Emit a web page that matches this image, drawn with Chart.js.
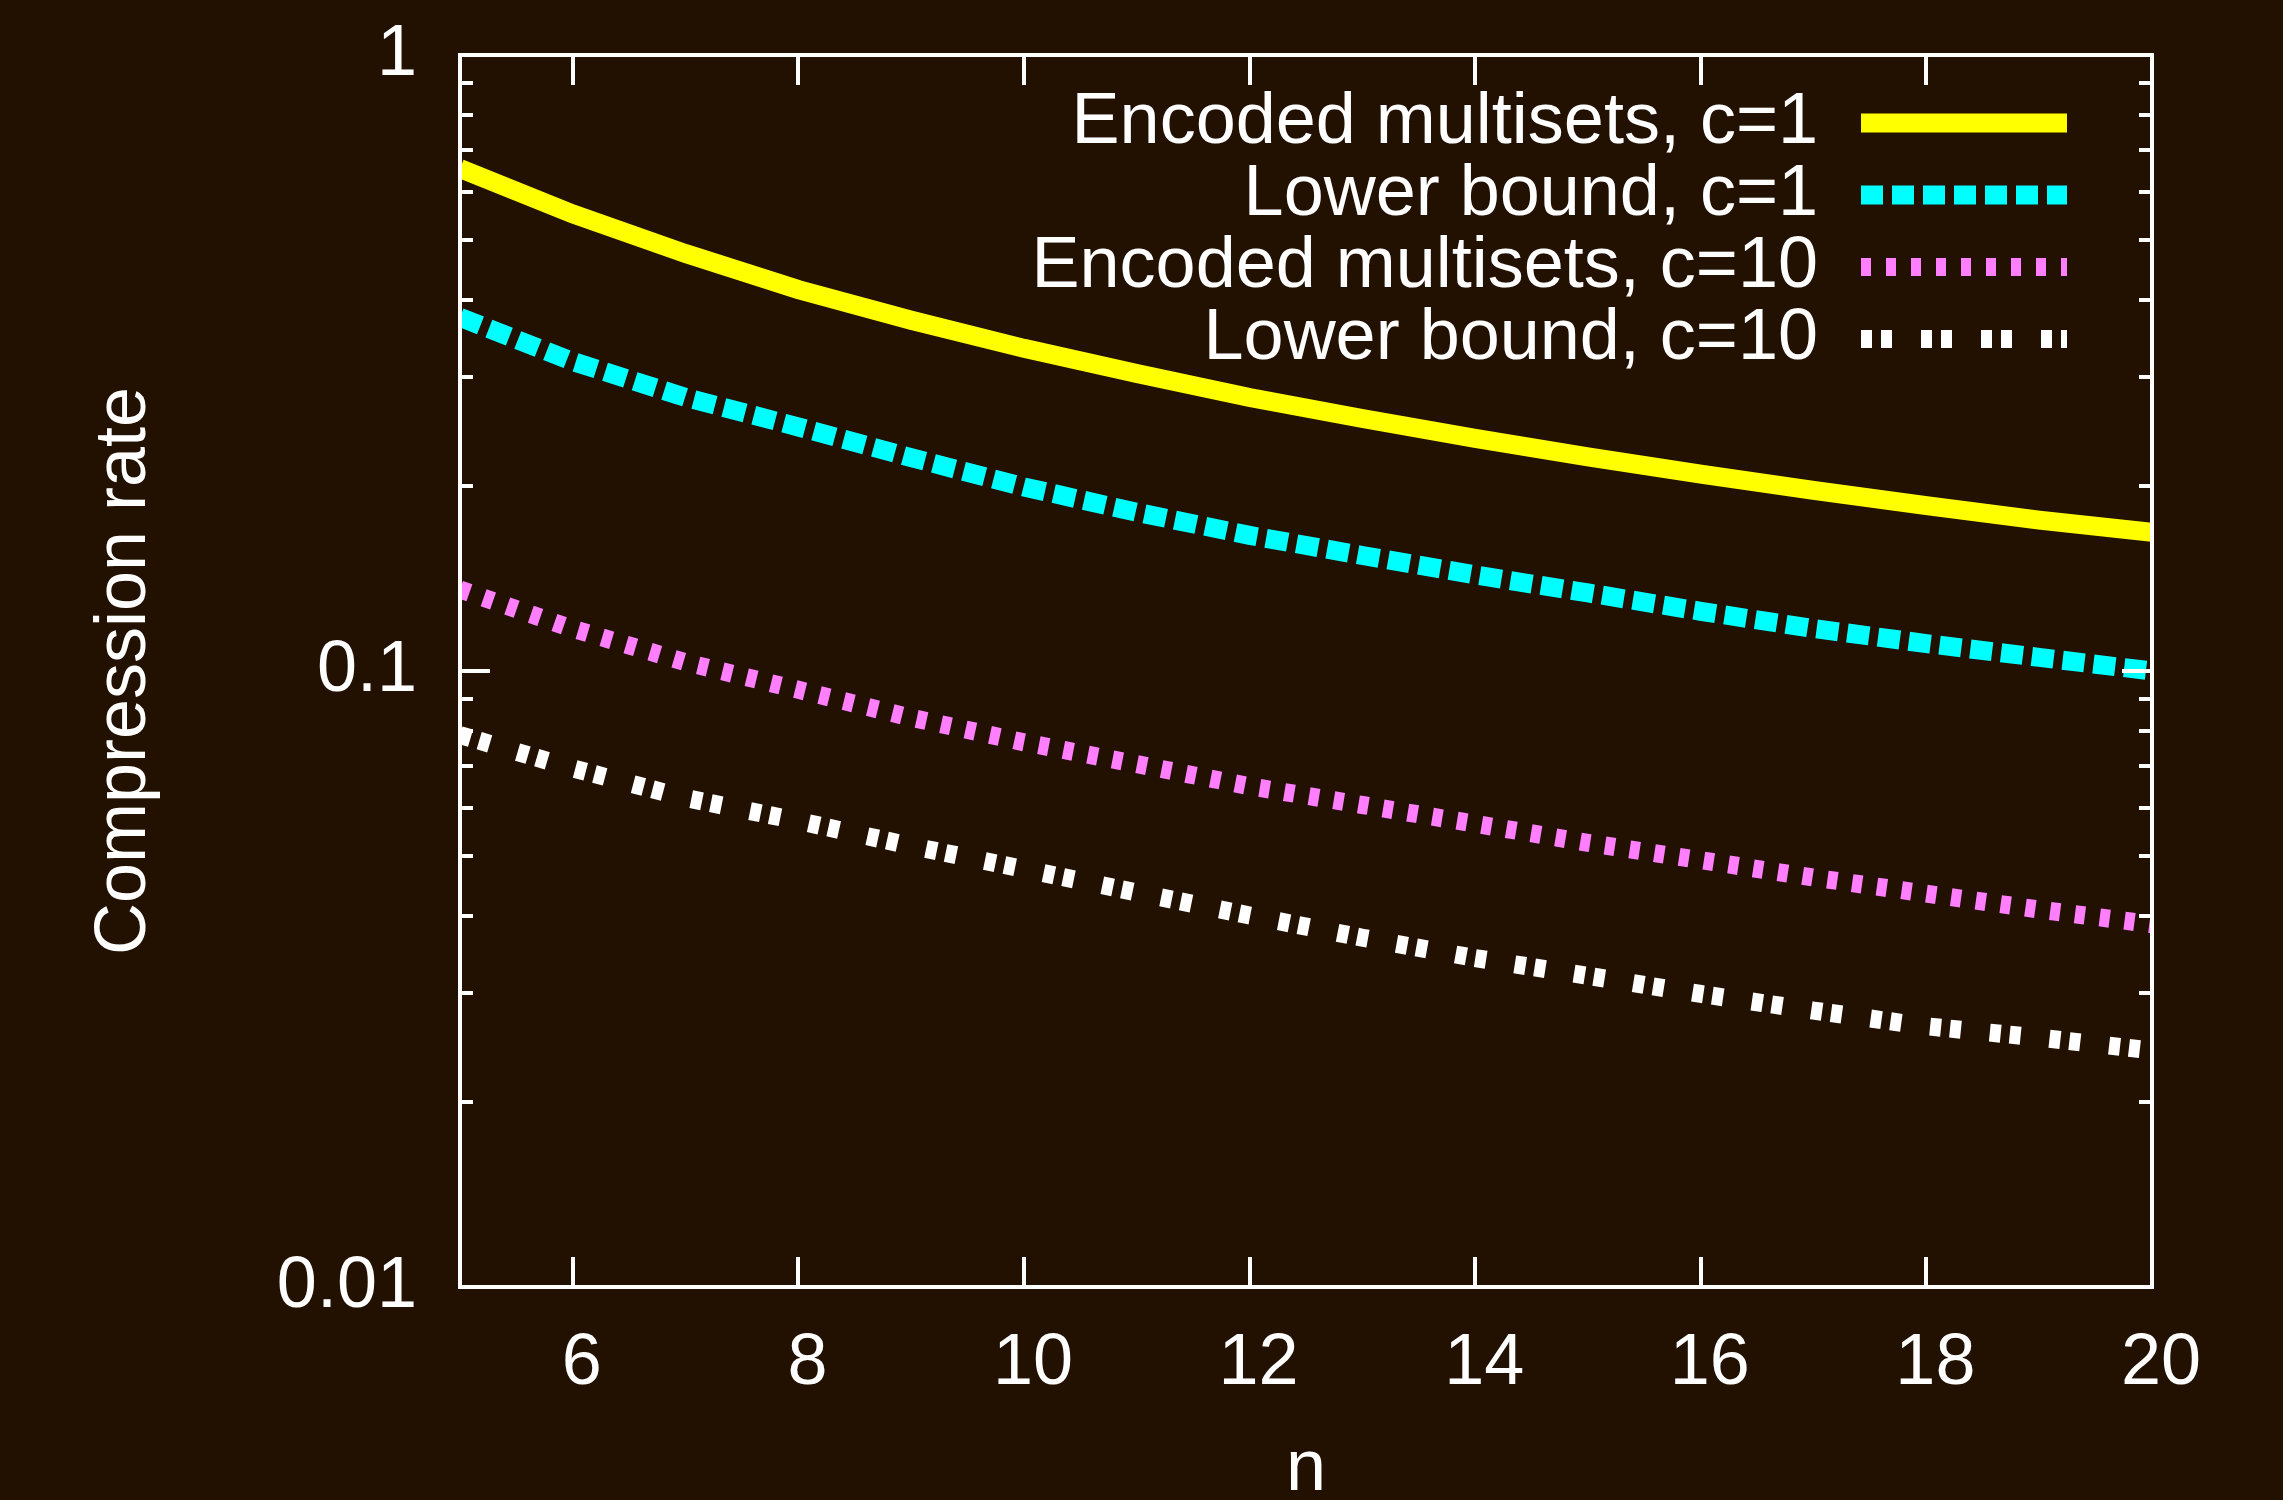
<!DOCTYPE html>
<html>
<head>
<meta charset="utf-8">
<script src="https://cdn.jsdelivr.net/npm/chart.js@4/dist/chart.umd.min.js"></script>
<style>
  html, body { margin: 0; padding: 0; background: #221100; }
  #wrap { width: 2283px; height: 1500px; position: relative; }
</style>
</head>
<body>
<div id="wrap"><canvas id="c"></canvas></div>
<script>
// ---- data ----
const nValues = [5, 6, 7, 8, 9, 10, 11, 12, 13, 14, 15, 16, 17, 18, 19, 20];
const encodedC1 = [0.654, 0.552, 0.476, 0.416, 0.371, 0.334, 0.304, 0.278, 0.257, 0.2386, 0.2227, 0.2088, 0.1965, 0.1856, 0.1758, 0.168];
const lowerC1 = [0.375, 0.318, 0.278, 0.249, 0.222, 0.199, 0.181, 0.166, 0.154, 0.1432, 0.1339, 0.125, 0.1172, 0.1108, 0.1052, 0.1];
const encodedC10 = [0.1356, 0.1171, 0.1033, 0.0932, 0.0840, 0.0766, 0.0706, 0.0650, 0.0606, 0.0565, 0.0526, 0.0493, 0.0462, 0.0435, 0.0410, 0.0388];
const lowerC10 = [0.0787, 0.0695, 0.0622, 0.0571, 0.0520, 0.0477, 0.0437, 0.0401, 0.0369, 0.0342, 0.0320, 0.0299, 0.0281, 0.0265, 0.0254, 0.0242];

const seriesLabels = ['Encoded multisets, c=1', 'Lower bound, c=1', 'Encoded multisets, c=10', 'Lower bound, c=10'];

const xTickValues = [6, 8, 10, 12, 14, 16, 18, 20];
const yTickValues = [0.01, 0.02, 0.03, 0.04, 0.05, 0.06, 0.07, 0.08, 0.09,
                     0.1, 0.2, 0.3, 0.4, 0.5, 0.6, 0.7, 0.8, 0.9, 1];
const yMajorTicks = [0.01, 0.1, 1];
const yMajorLabels = ['0.01', '0.1', '1'];

const xTitle = 'n';
const yTitle = 'Compression rate';

// ---- styling ----
const BG = '#221100';
const FONT = 'Liberation Sans, Arial, Helvetica, sans-serif';
const FS = 72;

function pts(ys) { return nValues.map((n, i) => ({ x: n, y: ys[i] })); }

const datasets = [
  { label: seriesLabels[0], data: pts(encodedC1), borderColor: '#ffff00', borderWidth: 19, borderDash: [] },
  { label: seriesLabels[1], data: pts(lowerC1), borderColor: '#00ffff', borderWidth: 19, borderDash: [22, 9] },
  { label: seriesLabels[2], data: pts(encodedC10), borderColor: '#ff7fff', borderWidth: 18, borderDash: [10, 15] },
  { label: seriesLabels[3], data: pts(lowerC10), borderColor: '#ffffff', borderWidth: 18, borderDash: [11, 9, 11, 29] }
].map(d => Object.assign(d, { pointRadius: 0, fill: false, tension: 0, clip: 0, borderCapStyle: 'butt' }));

const bgPlugin = {
  id: 'bg',
  beforeDraw(chart) {
    const ctx = chart.ctx;
    ctx.save();
    ctx.fillStyle = BG;
    ctx.fillRect(0, 0, chart.width, chart.height);
    ctx.restore();
  }
};

const framePlugin = {
  id: 'frame',
  afterDatasetsDraw(chart) {
    const { ctx, chartArea: a, scales: { x, y } } = chart;
    ctx.save();
    ctx.setLineDash([]);
    ctx.strokeStyle = '#ffffff';
    ctx.lineWidth = 4;
    ctx.lineCap = 'butt';
    ctx.beginPath();
    y.ticks.forEach(t => {
      const py = Math.round(y.getPixelForValue(t.value));
      const len = yMajorTicks.includes(t.value) ? 30 : 13;
      ctx.moveTo(a.left, py); ctx.lineTo(a.left + len, py);
      ctx.moveTo(a.right, py); ctx.lineTo(a.right - len, py);
    });
    x.ticks.forEach(t => {
      const px = Math.round(x.getPixelForValue(t.value));
      ctx.moveTo(px, a.bottom); ctx.lineTo(px, a.bottom - 30);
      ctx.moveTo(px, a.top); ctx.lineTo(px, a.top + 30);
    });
    ctx.stroke();
    ctx.strokeRect(a.left, a.top, a.right - a.left, a.bottom - a.top);
    ctx.restore();
  }
};

const legendPlugin = {
  id: 'rightLegend',
  afterDraw(chart) {
    const ctx = chart.ctx;
    const a = chart.chartArea;
    const textRight = a.right - 334;
    const sampleL = a.right - 291;
    const sampleR = a.right - 85;
    const row0 = a.top + 68;
    const rowH = 72;
    ctx.save();
    ctx.font = FS + 'px ' + FONT;
    ctx.textAlign = 'right';
    ctx.textBaseline = 'middle';
    chart.data.datasets.forEach((ds, i) => {
      const yy = row0 + i * rowH;
      ctx.fillStyle = '#ffffff';
      ctx.fillText(ds.label, textRight, yy);
      ctx.strokeStyle = ds.borderColor;
      ctx.lineWidth = ds.borderWidth;
      ctx.lineCap = 'butt';
      ctx.setLineDash(ds.borderDash || []);
      ctx.beginPath();
      ctx.moveTo(sampleL, yy);
      ctx.lineTo(sampleR, yy);
      ctx.stroke();
    });
    ctx.restore();
  }
};

new Chart(document.getElementById('c'), {
  type: 'line',
  data: { datasets },
  plugins: [bgPlugin, framePlugin, legendPlugin],
  options: {
    responsive: true,
    maintainAspectRatio: false,
    animation: false,
    events: [],
    layout: { padding: { top: 55, right: 131, bottom: 0, left: 0 } },
    plugins: { legend: { display: false }, tooltip: { enabled: false } },
    scales: {
      x: {
        type: 'linear',
        min: 5, max: 20,
        afterBuildTicks: s => { s.ticks = xTickValues.map(v => ({ value: v })); },
        afterFit: s => { s.height = 213; s.paddingLeft = 0; s.paddingRight = 0; },
        grid: { display: false, drawTicks: false },
        border: { display: false },
        ticks: {
          autoSkip: false, maxRotation: 0, minRotation: 0,
          color: '#ffffff', padding: 41, labelOffset: 9,
          font: { family: FONT, size: FS, lineHeight: 1 },
          callback: v => String(v)
        },
        title: {
          display: true, text: xTitle, color: '#ffffff',
          font: { family: FONT, size: FS, lineHeight: 1 },
          padding: { top: 0, bottom: -6 }
        }
      },
      y: {
        type: 'logarithmic',
        min: 0.01, max: 1,
        afterBuildTicks: s => { s.ticks = yTickValues.map(v => ({ value: v })); },
        afterFit: s => { s.width = 460; s.paddingTop = 0; s.paddingBottom = 0; },
        grid: { display: false, drawTicks: false },
        border: { display: false },
        ticks: {
          autoSkip: false,
          color: '#ffffff', padding: 43,
          font: { family: FONT, size: FS, lineHeight: 1 },
          callback: v => {
            const k = yMajorTicks.indexOf(v);
            return k >= 0 ? yMajorLabels[k] : '';
          }
        },
        title: {
          display: true, text: yTitle, color: '#ffffff',
          font: { family: FONT, size: FS, lineHeight: 1 },
          padding: { top: 89, bottom: 0 }
        }
      }
    }
  }
});
</script>
</body>
</html>
